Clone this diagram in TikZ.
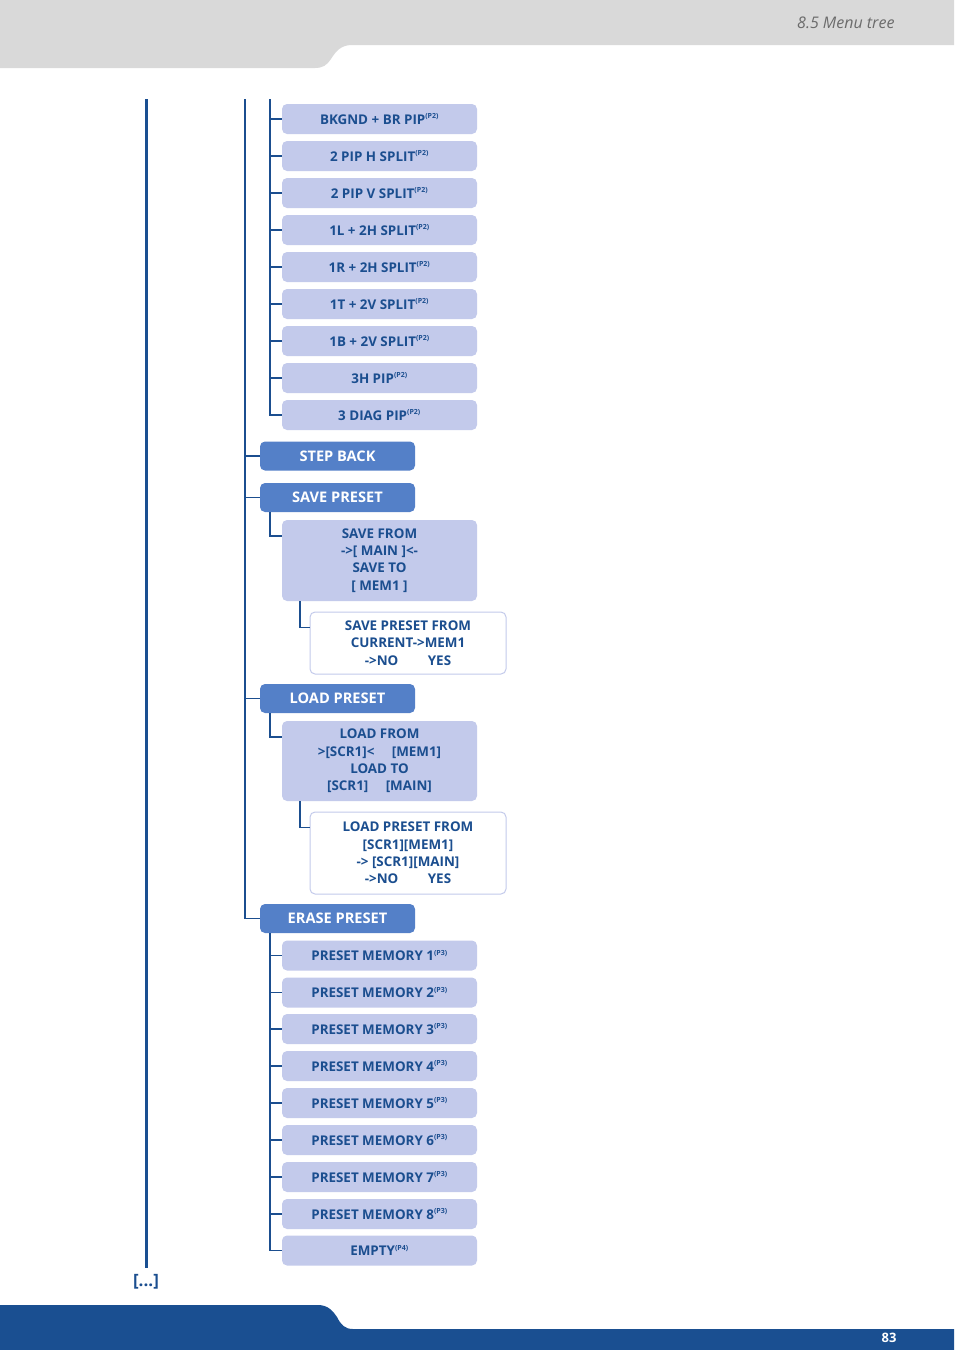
\documentclass[tikz,border=0pt]{standalone}
\usepackage{fontspec}
\setmainfont{Open Sans}
\usepackage{tikz}
\definecolor{lav}{HTML}{C3CAEB}
\definecolor{midblue}{HTML}{5480C8}
\definecolor{ink}{HTML}{1B4E8F}
\definecolor{navy}{HTML}{1A4F91}
\definecolor{hdrgrey}{HTML}{D9D9D9}
\newcommand{\ptag}[1]{\textsuperscript{\fontsize{7}{7}\selectfont(#1)}}
\tikzstyle{item} = [rectangle, rounded corners=5pt, fill=lav, text=ink,
minimum width=195pt, minimum height=30pt, inner sep=0pt,
font=\fontsize{13.4}{15}\selectfont\bfseries]
\tikzstyle{btn} = [rectangle, rounded corners=5pt, fill=midblue, text=white,
minimum width=155pt, minimum height=29pt, inner sep=0pt,
font=\fontsize{14.6}{16}\selectfont\bfseries]
\tikzstyle{multi} = [item, align=center, font=\fontsize{13.4}{17.3}\selectfont\bfseries]
\tikzstyle{ask} = [multi, fill=white, draw=lav, line width=1pt, minimum width=196pt]
\tikzstyle{conn} = [draw=ink, line width=1.4pt]

\begin{document}
\begin{tikzpicture}[x=1pt, y=-1pt]
                    \useasboundingbox (0,0) rectangle (954,1350);
                    % page header and footer
                    \fill[hdrgrey] (0,0) -- (954,0) -- (954,45) -- (352,45)
                        .. controls (341,45) and (336,51) .. (331,59)
                        .. controls (327,65) and (323,68) .. (315,68) -- (0,68) -- cycle;
                    \node[anchor=east, text=black!58, font=\fontsize{16}{18}\selectfont\itshape] (title) at (898,23) {8.5 Menu tree};
                    \fill[navy] (0,1305) -- (318,1305)
                        .. controls (328,1305) and (333,1311) .. (337,1317)
                        .. controls (341,1325) and (345,1329) .. (353,1329)
                        -- (954,1329) -- (954,1350) -- (0,1350) -- cycle;
                    \node[text=white, font=\fontsize{13}{15}\selectfont\bfseries] (pageno) at (889,1338) {83};
                    % trunks
                    \coordinate (trunk0) at (146,99);
                    \coordinate (trunk0end) at (146,1268);
                    \coordinate (trunk1) at (245,99);
                    \coordinate (trunk2) at (270,99);
                    \draw[draw=navy, line width=3pt] (trunk0) -- (trunk0end);
                    \node[text=ink, font=\fontsize{17}{19}\selectfont\bfseries] (more) at (146,1282) {[...]};
                    % picture in picture layouts
                    \node[item] (bkgnd) at (379.5,119) {BKGND + BR PIP\ptag{P2}};
                    \node[item] (pipH) at (379.5,156) {2 PIP H SPLIT\ptag{P2}};
                    \node[item] (pipV) at (379.5,193) {2 PIP V SPLIT\ptag{P2}};
                    \node[item] (lsplit) at (379.5,230) {1L + 2H SPLIT\ptag{P2}};
                    \node[item] (rsplit) at (379.5,267) {1R + 2H SPLIT\ptag{P2}};
                    \node[item] (tsplit) at (379.5,304) {1T + 2V SPLIT\ptag{P2}};
                    \node[item] (bsplit) at (379.5,341) {1B + 2V SPLIT\ptag{P2}};
                    \node[item] (hpip) at (379.5,378) {3H PIP\ptag{P2}};
                    \node[item] (diagpip) at (379.5,415) {3 DIAG PIP\ptag{P2}};
                    \draw[conn] (trunk2) |- (diagpip.west);
                    \draw[conn] (bkgnd.west) -- (bkgnd.west -| trunk2);
                    \draw[conn] (pipH.west) -- (pipH.west -| trunk2);
                    \draw[conn] (pipV.west) -- (pipV.west -| trunk2);
                    \draw[conn] (lsplit.west) -- (lsplit.west -| trunk2);
                    \draw[conn] (rsplit.west) -- (rsplit.west -| trunk2);
                    \draw[conn] (tsplit.west) -- (tsplit.west -| trunk2);
                    \draw[conn] (bsplit.west) -- (bsplit.west -| trunk2);
                    \draw[conn] (hpip.west) -- (hpip.west -| trunk2);
                    % main menu buttons
                    \node[btn] (stepback) at (337.5,456) {STEP BACK};
                    \node[btn] (savepreset) at (337.5,497.5) {SAVE PRESET};
                    \node[btn] (loadpreset) at (337.5,698.5) {LOAD PRESET};
                    \node[btn] (erasepreset) at (337.5,918.5) {ERASE PRESET};
                    \draw[conn] (trunk1) |- (erasepreset.west);
                    \draw[conn] (stepback.west) -- (stepback.west -| trunk1);
                    \draw[conn] (savepreset.west) -- (savepreset.west -| trunk1);
                    \draw[conn] (loadpreset.west) -- (loadpreset.west -| trunk1);
                    % save preset
                    \node[multi, minimum height=81pt] (savefrom) at (379.5,560.5)
                        {SAVE FROM\\->{[} MAIN ]<-\\SAVE TO\\{[} MEM1 ]};
                    \node[ask, minimum height=62pt] (saveask) at (408,643)
                        {SAVE PRESET FROM\\CURRENT->MEM1\\->NO\hspace{2.2em}YES};
                    \draw[conn] (savepreset.south west) ++(10,0) |- ([yshift=-16pt]savefrom.north west);
                    \draw[conn] (savefrom.south west) ++(18,0) |- ([yshift=-16pt]saveask.north west);
                    % load preset
                    \node[multi, minimum height=80pt] (loadfrom) at (379.5,761)
                        {LOAD FROM\\>{[}SCR1]<\hspace{1.3em}{[}MEM1]\\LOAD TO\\{[}SCR1]\hspace{1.3em}{[}MAIN]};
                    \node[ask, minimum height=82pt] (loadask) at (408,853)
                        {LOAD PRESET FROM\\{[}SCR1][MEM1]\\-> {[}SCR1][MAIN]\\->NO\hspace{2.2em}YES};
                    \draw[conn] (loadpreset.south west) ++(10,0) |- ([yshift=-16pt]loadfrom.north west);
                    \draw[conn] (loadfrom.south west) ++(18,0) |- ([yshift=-16pt]loadask.north west);
                    % erase preset
                    \node[item] (pm1) at (379.5,955.5) {PRESET MEMORY 1\ptag{P3}};
                    \node[item] (pm2) at (379.5,992.5) {PRESET MEMORY 2\ptag{P3}};
                    \node[item] (pm3) at (379.5,1029) {PRESET MEMORY 3\ptag{P3}};
                    \node[item] (pm4) at (379.5,1066) {PRESET MEMORY 4\ptag{P3}};
                    \node[item] (pm5) at (379.5,1103) {PRESET MEMORY 5\ptag{P3}};
                    \node[item] (pm6) at (379.5,1140) {PRESET MEMORY 6\ptag{P3}};
                    \node[item] (pm7) at (379.5,1177) {PRESET MEMORY 7\ptag{P3}};
                    \node[item] (pm8) at (379.5,1214) {PRESET MEMORY 8\ptag{P3}};
                    \node[item] (empty) at (379.5,1250.5) {EMPTY\ptag{P4}};
                    \draw[conn] (erasepreset.south west) ++(10,0) coordinate (trunk3) |- (empty.west);
                    \draw[conn] (pm1.west) -- (pm1.west -| trunk3);
                    \draw[conn] (pm2.west) -- (pm2.west -| trunk3);
                    \draw[conn] (pm3.west) -- (pm3.west -| trunk3);
                    \draw[conn] (pm4.west) -- (pm4.west -| trunk3);
                    \draw[conn] (pm5.west) -- (pm5.west -| trunk3);
                    \draw[conn] (pm6.west) -- (pm6.west -| trunk3);
                    \draw[conn] (pm7.west) -- (pm7.west -| trunk3);
                    \draw[conn] (pm8.west) -- (pm8.west -| trunk3);
                \end{tikzpicture}
\end{document}
